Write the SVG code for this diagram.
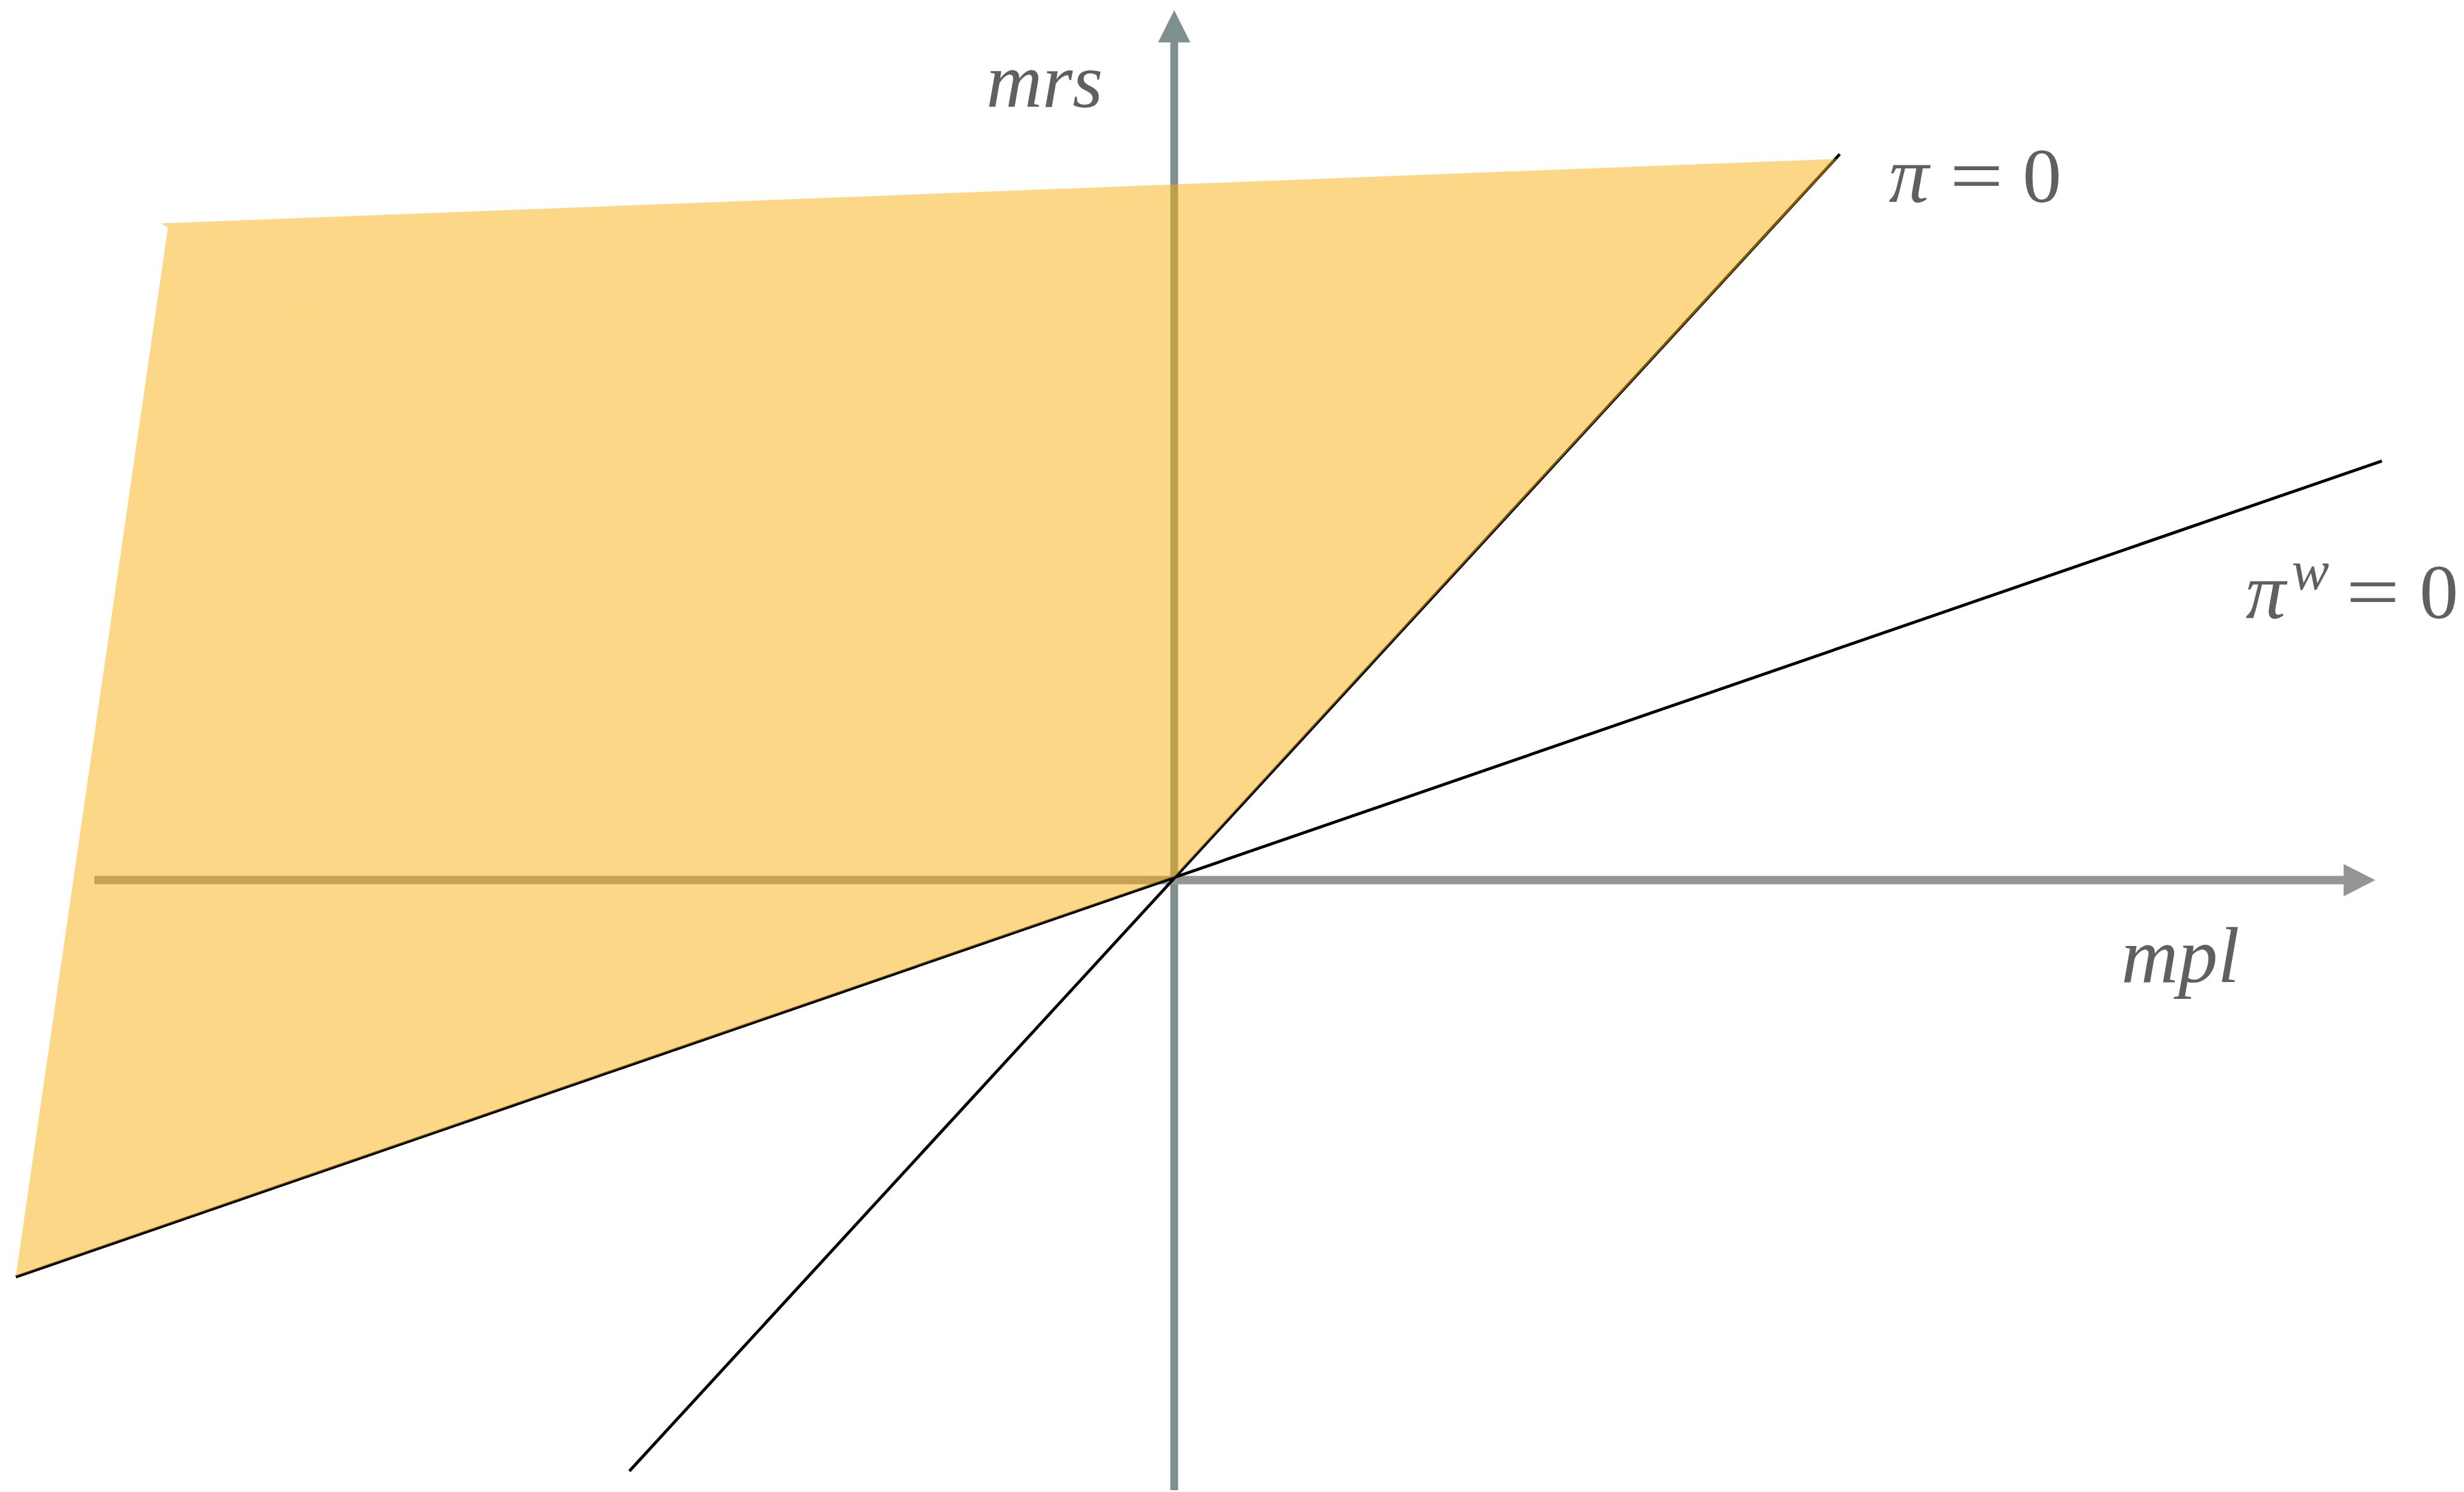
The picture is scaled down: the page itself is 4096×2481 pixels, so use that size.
<svg xmlns="http://www.w3.org/2000/svg" width="4096" height="2481" viewBox="0 0 4096 2481">
<style>
.lbl{font-family:"Liberation Serif","DejaVu Serif",serif;font-style:italic;fill:#606060}
.num{font-family:"Liberation Serif","DejaVu Serif",serif;fill:#606060}
.ln{stroke:#000;stroke-width:5;fill:none;stroke-linecap:butt}
.fill{fill:#fbaf11;fill-opacity:0.5;stroke:none}
</style>
<rect width="4096" height="2481" fill="#fff"/>
<g transform="scale(0.9936)">
<g id="axes">
<g id="y-axis">
<line x1="1964.5" y1="70" x2="1964.5" y2="2494" stroke="#7f8f8e" stroke-width="13"/>
<polygon points="1964.5,17 1991.5,71 1937.5,71" fill="#7f8f8e"/>
</g>
<g id="x-axis">
<line x1="158" y1="1473" x2="3922" y2="1473" stroke="#959595" stroke-width="14"/>
<polygon points="3974,1473 3921,1446 3921,1500" fill="#959595"/>
</g>
</g>
<g id="connectors">
<line id="pi0" class="ln" x1="1053" y1="2462" x2="3078" y2="258"/>
<line id="piw0" class="ln" x1="26.5" y1="2137" x2="3985" y2="771.5"/>
</g>
<g id="region">
<polygon class="fill" points="270,374 3073,266 1966,1467"/>
<polygon class="fill" points="281,381 1966,1467 26.5,2136"/>
<line x1="270" y1="374" x2="1200" y2="973" stroke="#fbaf11" stroke-opacity="0.07" stroke-width="2"/>
</g>
<g id="labels">
<text class="lbl" x="1650" y="179" font-size="130">mrs</text>
<text class="lbl" x="3549" y="1644" font-size="132">mpl</text>
<g id="label-pi">
<text class="lbl" x="3160" y="338" font-size="134">π</text>
<text class="num" x="3262" y="338" font-size="130" textLength="90" lengthAdjust="spacingAndGlyphs">=</text>
<text class="num" x="3384" y="338" font-size="130">0</text>
</g>
<g id="label-piw">
<text class="lbl" x="3757" y="1035" font-size="134">π</text>
<text class="lbl" x="3834" y="986" font-size="94">w</text>
<text class="num" x="3925" y="1035" font-size="130" textLength="90" lengthAdjust="spacingAndGlyphs">=</text>
<text class="num" x="4048" y="1035" font-size="130">0</text>
</g>
</g>
</g>
</svg>
